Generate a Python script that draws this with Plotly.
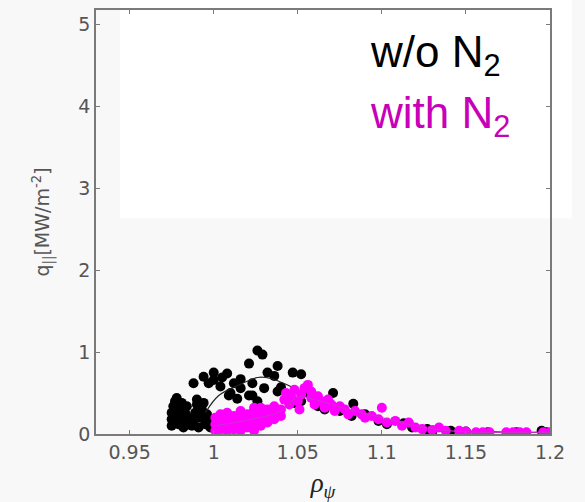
import plotly.graph_objects as go

# --- data ---
x_tick_vals = [0.95, 1.0, 1.05, 1.1, 1.15, 1.2]
x_tick_text = ["0.95", "1", "1.05", "1.1", "1.15", "1.2"]
y_tick_vals = [0, 1, 2, 3, 4, 5]

wo_x = [0.975, 0.975, 0.975, 0.976, 0.977, 0.978, 0.979, 0.979, 0.980, 0.981,
        0.982, 0.982, 0.983, 0.984, 0.985, 0.985, 0.987, 0.988, 0.989, 0.990,
        0.990, 0.991, 0.992, 0.993, 0.994, 0.995, 0.996, 0.997, 0.998, 0.999,
        0.988, 0.994, 0.997, 1.000, 1.000, 1.005, 1.008, 1.004, 1.010, 1.012,
        1.016, 1.016, 1.021, 1.021, 1.026, 1.029, 1.023, 1.032, 1.036, 1.038,
        1.030, 1.040, 1.038, 1.047, 1.052, 1.023, 1.057, 1.071, 1.062, 1.052,
        1.083, 1.082, 1.009, 1.014, 1.026, 1.045, 1.048, 1.066, 1.075, 1.090,
        1.098, 1.103, 1.113, 1.118, 1.127, 1.130, 1.141, 1.150, 1.163, 1.180,
        1.195, 1.198]
wo_y = [0.10, 0.18, 0.26, 0.34, 0.40, 0.44, 0.12, 0.22, 0.30, 0.38,
        0.08, 0.16, 0.26, 0.34, 0.12, 0.20, 0.10, 0.16, 0.26, 0.36,
        0.42, 0.08, 0.20, 0.30, 0.38, 0.12, 0.24, 0.16, 0.08, 0.14,
        0.62, 0.70, 0.62, 0.75, 0.66, 0.69, 0.74, 0.58, 0.50, 0.62,
        0.67, 0.56, 0.47, 0.86, 1.02, 0.97, 0.62, 0.75, 0.71, 0.83,
        0.56, 0.57, 0.52, 0.75, 0.73, 0.47, 0.49, 0.50, 0.34, 0.40,
        0.37, 0.22, 0.47, 0.43, 0.40, 0.45, 0.38, 0.30, 0.28, 0.24,
        0.16, 0.12, 0.13, 0.08, 0.06, 0.03, 0.04, 0.03, 0.02, 0.02,
        0.04, 0.02]

wo_fit_x = [0.995, 1.003, 1.014, 1.026, 1.031, 1.038, 1.050, 1.060, 1.070,
            1.080, 1.090, 1.100, 1.120, 1.140, 1.160, 1.180, 1.200]
wo_fit_y = [0.26, 0.47, 0.59, 0.69, 0.69, 0.65, 0.54, 0.45, 0.37,
            0.29, 0.22, 0.16, 0.08, 0.04, 0.03, 0.02, 0.02]

w_x = [1.001, 1.001, 1.001, 1.004, 1.004, 1.004, 1.008, 1.008, 1.008, 1.008,
       1.012, 1.012, 1.012, 1.016, 1.016, 1.016, 1.016, 1.020, 1.020, 1.020,
       1.024, 1.024, 1.024, 1.024, 1.024, 1.028, 1.028, 1.028, 1.028,
       1.032, 1.032, 1.032, 1.036, 1.036, 1.036, 1.040, 1.040,
       1.042, 1.043, 1.045, 1.046, 1.048, 1.050, 1.051, 1.052, 1.054, 1.056,
       1.058, 1.058, 1.060, 1.062, 1.064, 1.066, 1.068, 1.070, 1.072, 1.075,
       1.078, 1.080, 1.084, 1.088, 1.090, 1.094, 1.098, 1.100, 1.103, 1.108,
       1.112, 1.116, 1.120, 1.124, 1.130, 1.134, 1.138, 1.146, 1.150, 1.156,
       1.160, 1.164, 1.174, 1.178, 1.182, 1.186, 1.196, 1.200]
w_y = [0.04, 0.12, 0.20, 0.06, 0.14, 0.24, 0.04, 0.12, 0.20, 0.26,
       0.06, 0.14, 0.22, 0.04, 0.12, 0.20, 0.28, 0.08, 0.16, 0.24,
       0.04, 0.12, 0.20, 0.28, 0.32, 0.10, 0.18, 0.26, 0.32,
       0.14, 0.22, 0.30, 0.18, 0.26, 0.34, 0.22, 0.30,
       0.42, 0.50, 0.36, 0.46, 0.54, 0.40, 0.30, 0.48, 0.56, 0.60,
       0.44, 0.52, 0.36, 0.46, 0.40, 0.32, 0.42, 0.36, 0.28, 0.34,
       0.30, 0.24, 0.28, 0.24, 0.20, 0.22, 0.18, 0.32, 0.14, 0.16,
       0.10, 0.14, 0.08, 0.06, 0.05, 0.08, 0.04, 0.04, 0.03, 0.02,
       0.02, 0.02, 0.02, 0.02, 0.02, 0.02, 0.02, 0.02]

w_fit_x = [1.000, 1.020, 1.040, 1.050, 1.060, 1.080, 1.100, 1.120, 1.140,
           1.160, 1.180, 1.200]
w_fit_y = [0.10, 0.17, 0.28, 0.45, 0.42, 0.30, 0.20, 0.10, 0.04,
           0.02, 0.02, 0.02]

BLACK = "#000000"
MAGENTA = "#ff00ff"
TEXT_MAGENTA = "#c800b8"
AXIS_GREY = "#7a7a7a"
TICK_TEXT = "#555555"

fig = go.Figure()

fig.add_trace(go.Scatter(x=wo_x, y=wo_y, mode="markers",
                         marker=dict(color=BLACK, size=10), showlegend=False))
fig.add_trace(go.Scatter(x=wo_fit_x, y=wo_fit_y, mode="lines",
                         line=dict(color="#222222", width=1.2, shape="spline"),
                         showlegend=False))
fig.add_trace(go.Scatter(x=w_x, y=w_y, mode="markers",
                         marker=dict(color=MAGENTA, size=10), showlegend=False))
fig.add_trace(go.Scatter(x=w_fit_x, y=w_fit_y, mode="lines",
                         line=dict(color="#cc33cc", width=1, shape="spline"),
                         showlegend=False))

# white box behind the label text
fig.add_shape(type="rect", xref="paper", yref="paper",
              x0=0.053, x1=1.048, y0=0.509, y1=1.024,
              fillcolor="white", line=dict(width=0), layer="below")

fig.add_annotation(xref="paper", yref="paper", x=0.6, y=0.893,
                   xanchor="left", yanchor="middle", showarrow=False,
                   text="w/o N<sub>2</sub>",
                   font=dict(family="Liberation Sans, Arial", size=44, color=BLACK))
fig.add_annotation(xref="paper", yref="paper", x=0.6, y=0.75,
                   xanchor="left", yanchor="middle", showarrow=False,
                   text="with N<sub>2</sub>",
                   font=dict(family="Liberation Sans, Arial", size=44, color=TEXT_MAGENTA))

fig.update_layout(
    width=585, height=502,
    margin=dict(l=96, r=35, t=10, b=68, autoexpand=False),
    paper_bgcolor="#f8f8f8", plot_bgcolor="#f8f8f8",
    font=dict(family="DejaVu Sans", size=19, color=TICK_TEXT),
    xaxis=dict(range=[0.93, 1.2], tickvals=x_tick_vals, ticktext=x_tick_text,
               automargin=False,
               showgrid=False, zeroline=False, showline=True, mirror="ticks",
               linecolor=AXIS_GREY, linewidth=1.5, ticks="inside", ticklen=4,
               tickcolor=AXIS_GREY,
               title=dict(text="<i>ρ<sub>ψ</sub></i>", standoff=21,
                          font=dict(family="Liberation Serif", size=27, color="#222222"))),
    yaxis=dict(range=[0, 5.18], tickvals=y_tick_vals,
               automargin=False,
               showgrid=False, zeroline=False, showline=True, mirror="ticks",
               linecolor=AXIS_GREY, linewidth=1.5, ticks="inside", ticklen=4,
               tickcolor=AXIS_GREY,
               title=dict(text="q<sub>||</sub>[MW/m<sup>-2</sup>]", standoff=24,
                          font=dict(family="DejaVu Sans", size=19, color=TICK_TEXT))),
)

fig.write_html("out.html", config={"displayModeBar": False},
               post_script="document.body.style.margin='0';document.body.style.background='#f8f8f8';")
